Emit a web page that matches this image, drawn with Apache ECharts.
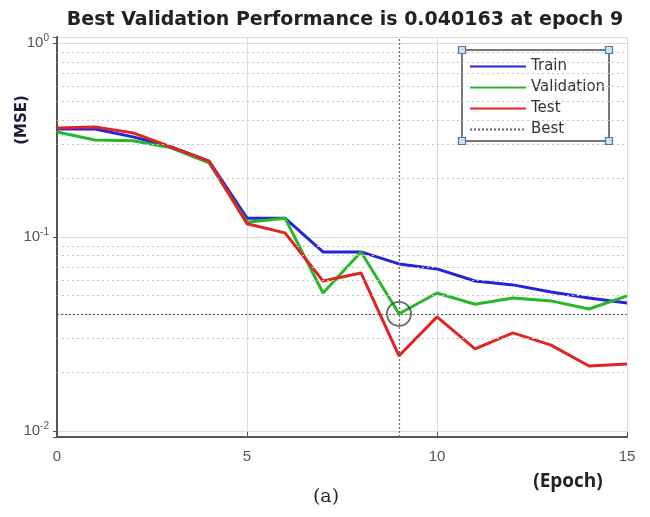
<!DOCTYPE html>
<html>
<head>
<meta charset="utf-8">
<title>Best Validation Performance</title>
<script src="https://cdn.jsdelivr.net/npm/echarts@6/dist/echarts.min.js"></script>
<style>
  html, body { margin: 0; padding: 0; background: #fff; }
  #chart { width: 650px; height: 517px; }
</style>
</head>
<body>
<div id="chart"></div>
<script>
// 数据：每个 epoch 的 MSE（从图上读出来的）
var epochs = [0, 1, 2, 3, 4, 5, 6, 7, 8, 9, 10, 11, 12, 13, 14, 15];
var trainMse = [0.36, 0.36, 0.328, 0.291, 0.246, 0.125, 0.125, 0.0837, 0.0837, 0.0726, 0.0684, 0.0593, 0.0566, 0.052, 0.0485, 0.0457];
var validMse = [0.348, 0.316, 0.313, 0.288, 0.241, 0.119, 0.125, 0.0514, 0.0837, 0.040163, 0.0514, 0.045, 0.0485, 0.0468, 0.0425, 0.0497];
var testMse = [0.365, 0.369, 0.344, 0.291, 0.246, 0.117, 0.105, 0.0593, 0.0652, 0.0244, 0.0387, 0.0265, 0.032, 0.0277, 0.0216, 0.0221];

// 最佳点
var bestEpoch = 9;
var bestValue = 0.040163;

// 对数轴上的次网格线 (2..9 x 10^k)
var minorTicks = [0.02, 0.03, 0.04, 0.05, 0.06, 0.07, 0.08, 0.09, 0.2, 0.3, 0.4, 0.5, 0.6, 0.7, 0.8, 0.9];

// 轴范围（比 10^-2 ~ 10^0 稍宽一点，和原图的框一致）
var yMin = 0.0093;
var yMax = 1.074;

function pairs(values) {
  return epochs.map(function (e, i) { return [e, values[i]]; });
}

var chart = echarts.init(document.getElementById('chart'));

var option = {
  animation: false,
  title: {
    text: 'Best Validation Performance is 0.040163 at epoch 9',
    left: 340,
    top: 6,
    textAlign: 'center',
    textStyle: { fontFamily: 'DejaVu Sans', fontWeight: 'bold', fontSize: 19, color: '#222' }
  },
  grid: { left: 57, right: 23, top: 37, bottom: 80 },
  legend: {
    data: ['Train', 'Validation', 'Test', 'Best'],
    orient: 'vertical',
    left: 464,
    top: 54,
    itemWidth: 56,
    itemHeight: 14,
    itemGap: 6,
    z: 5,
    itemStyle: { opacity: 0 },
    textStyle: { fontFamily: 'DejaVu Sans', fontSize: 15, color: '#333' }
  },
  xAxis: {
    type: 'value',
    min: 0,
    max: 15,
    interval: 5,
    axisLine: { lineStyle: { color: '#555', width: 2 } },
    axisTick: { inside: true, length: 5, lineStyle: { color: '#555' } },
    axisLabel: { fontFamily: 'Liberation Sans, Arial', fontSize: 15, color: '#555', margin: 12 },
    splitLine: { show: true, lineStyle: { color: '#dcdcdc', width: 1 } }
  },
  yAxis: {
    type: 'log',
    logBase: 10,
    min: yMin,
    max: yMax,
    axisLine: { show: true, lineStyle: { color: '#555', width: 2 } },
    axisTick: { show: true, inside: false, length: 4, lineStyle: { color: '#555' } },
    axisLabel: {
      margin: 8,
      formatter: function (v) {
        var p = Math.log10(v);
        if (Math.abs(p - Math.round(p)) > 0.01) return '';
        return '{b|10}{s|' + Math.round(p) + '}';
      },
      rich: {
        b: { fontFamily: 'Liberation Sans, Arial', fontSize: 15, color: '#555' },
        s: { fontFamily: 'Liberation Sans, Arial', fontSize: 10, color: '#555', padding: [0, 0, 9, 0] }
      }
    },
    splitLine: { show: true, lineStyle: { color: '#dcdcdc', width: 1 } }
  },
  series: [
    {
      // 次网格线
      name: 'minor',
      type: 'line',
      data: [],
      silent: true,
      z: 1,
      markLine: {
        silent: true,
        symbol: 'none',
        label: { show: false },
        lineStyle: { color: '#c4c4c4', type: [2, 3], width: 1 },
        data: minorTicks.map(function (t) { return { yAxis: t }; })
      }
    },
    {
      name: 'Train',
      type: 'line',
      data: pairs(trainMse),
      symbol: 'none',
      lineStyle: { color: '#2424d8', width: 3 },
      itemStyle: { color: '#2424d8' }
    },
    {
      name: 'Validation',
      type: 'line',
      data: pairs(validMse),
      symbol: 'none',
      lineStyle: { color: '#27b827', width: 3 },
      itemStyle: { color: '#27b827' }
    },
    {
      name: 'Test',
      type: 'line',
      data: pairs(testMse),
      symbol: 'none',
      lineStyle: { color: '#e02424', width: 3 },
      itemStyle: { color: '#e02424' }
    },
    {
      // Best：竖线 + 横线（虚线）
      name: 'Best',
      type: 'line',
      data: [],
      symbol: 'none',
      lineStyle: { color: '#666', type: [2, 2], width: 1 },
      itemStyle: { color: '#666' },
      markLine: {
        silent: true,
        symbol: 'none',
        label: { show: false },
        lineStyle: { color: '#666', type: [2, 2], width: 1.2 },
        data: [{ xAxis: bestEpoch }, { yAxis: bestValue }]
      }
    },
    {
      // 最佳点的圆圈
      name: 'bestCircle',
      type: 'scatter',
      data: [[bestEpoch, bestValue]],
      symbol: 'circle',
      symbolSize: 24,
      silent: true,
      z: 4,
      itemStyle: { color: 'rgba(0,0,0,0)', borderColor: '#2f4f33', borderWidth: 1.8 }
    }
  ],
  graphic: [
    // 图例的框和四个角的小方块
    {
      type: 'rect', z: 3,
      shape: { x: 462, y: 50, width: 147, height: 91 },
      style: { fill: '#fff', stroke: '#777', lineWidth: 2 }
    },
    { type: 'rect', z: 6, shape: { x: 458.5, y: 46.5, width: 7, height: 7 }, style: { fill: '#cfe0f0', stroke: '#4a78a8', lineWidth: 1.2 } },
    { type: 'rect', z: 6, shape: { x: 605.5, y: 46.5, width: 7, height: 7 }, style: { fill: '#cfe0f0', stroke: '#4a78a8', lineWidth: 1.2 } },
    { type: 'rect', z: 6, shape: { x: 458.5, y: 137.5, width: 7, height: 7 }, style: { fill: '#cfe0f0', stroke: '#4a78a8', lineWidth: 1.2 } },
    { type: 'rect', z: 6, shape: { x: 605.5, y: 137.5, width: 7, height: 7 }, style: { fill: '#cfe0f0', stroke: '#4a78a8', lineWidth: 1.2 } },
    // 轴名称
    {
      type: 'text', x: 22, y: 120, rotation: Math.PI / 2,
      style: { text: '(MSE)', font: 'bold 15px "DejaVu Sans"', fill: '#1c1c3c', align: 'center', verticalAlign: 'middle' }
    },
    {
      type: 'text', x: 568, y: 482,
      style: { text: '(Epoch)', font: 'bold 19px "Open Sans", "Liberation Sans", Arial', fill: '#222', align: 'center', verticalAlign: 'middle' }
    },
    {
      type: 'text', x: 326, y: 497,
      style: { text: '(a)', font: '19px "DejaVu Serif", "Liberation Serif", serif', fill: '#222', align: 'center', verticalAlign: 'middle' }
    }
  ]
};

chart.setOption(option);
</script>
</body>
</html>
